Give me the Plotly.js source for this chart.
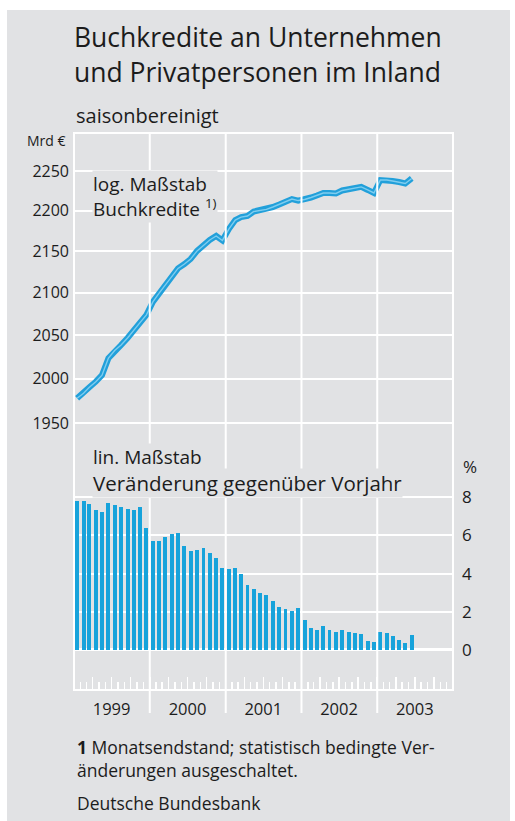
<!DOCTYPE html>
<html>
<head>
<meta charset="utf-8">
<script src="https://cdn.plot.ly/plotly-3.0.1.min.js"></script>
<style>
  html, body { margin: 0; padding: 0; background: #ffffff; }
  #chart { position: absolute; left: 7px; top: 10px; width: 503px; height: 811px; }
</style>
</head>
<body>
<div id="chart"></div>
<script>
// ---- data ----
const months = [
  '1999-01','1999-02','1999-03','1999-04','1999-05','1999-06','1999-07','1999-08','1999-09','1999-10','1999-11','1999-12',
  '2000-01','2000-02','2000-03','2000-04','2000-05','2000-06','2000-07','2000-08','2000-09','2000-10','2000-11','2000-12',
  '2001-01','2001-02','2001-03','2001-04','2001-05','2001-06','2001-07','2001-08','2001-09','2001-10','2001-11','2001-12',
  '2002-01','2002-02','2002-03','2002-04','2002-05','2002-06','2002-07','2002-08','2002-09','2002-10','2002-11','2002-12',
  '2003-01','2003-02','2003-03','2003-04','2003-05','2003-06'
];
// Buchkredite, Mrd €, saisonbereinigt (log. Maßstab)
const kredite = [
  1978.0,1983.6,1990.4,1996.6,2004.0,2023.5,2032.2,2038.5,2046.7,2056.2,2064.9,2073.7,
  2089.0,2099.7,2108.7,2118.7,2129.1,2134.4,2140.5,2150.3,2157.6,2163.7,2168.6,2163.1,
  2177.1,2188.3,2192.0,2193.3,2198.9,2200.2,2201.5,2204.5,2207.7,2211.5,2214.5,2212.6,
  2213.9,2216.4,2219.0,2222.1,2222.1,2221.5,2225.3,2226.6,2228.5,2229.8,2226.0,2222.1,
  2238.5,2238.5,2237.3,2236.0,2234.1,2240.5
];
// Veränderung gegenüber Vorjahr, % (lin. Maßstab)
const veraenderung = [
  7.79,7.79,7.63,7.35,7.23,7.68,7.60,7.47,7.39,7.35,7.47,6.41,
  5.68,5.73,5.94,6.08,6.15,5.45,5.16,5.26,5.33,5.10,4.82,4.29,
  4.23,4.29,3.96,3.42,3.21,3.00,2.88,2.59,2.25,2.13,2.06,2.18,
  1.57,1.17,1.07,1.24,1.07,0.93,1.03,0.96,0.91,0.84,0.47,0.40,
  0.96,0.91,0.73,0.52,0.38,0.80
];
const years = ['1999','2000','2001','2002','2003'];
const logTicks = [1950, 2000, 2050, 2100, 2150, 2200, 2250];
const pctTicks = [0, 2, 4, 6, 8];

// ---- styles ----
const BG = '#e1e2e4';
const BLUE = '#17a3db';
const TXT = '#1c1c1c';
const FONT = 'Open Sans, Noto Sans, sans-serif';

const xMid = months.map(m => m + '-16');
const DAY = 86400000;

const traces = [
  { type: 'scatter', mode: 'lines', x: xMid, y: kredite, xaxis: 'x', yaxis: 'y',
    line: { color: '#22a0da', width: 6 }, hoverinfo: 'skip', showlegend: false },
  { type: 'scatter', mode: 'lines', x: xMid, y: kredite, xaxis: 'x', yaxis: 'y',
    line: { color: '#7fcdef', width: 1.4 }, hoverinfo: 'skip', showlegend: false },
  { type: 'bar', x: xMid, y: veraenderung, xaxis: 'x2', yaxis: 'y2',
    width: 19 * DAY, marker: { color: BLUE, line: { width: 0 } }, hoverinfo: 'skip', showlegend: false }
];

const yearStarts = years.slice(1).map(y => y + '-01-01');
const shapes = yearStarts.map(d => ({
  type: 'line', xref: 'x', yref: 'paper', x0: d, x1: d, y0: -0.0413, y1: 1,
  line: { color: '#ffffff', width: 2 }, layer: 'above'
}));
shapes.push({ type: 'rect', xref: 'paper', yref: 'paper', x0: 0, x1: 1, y0: 0, y1: 1,
  line: { color: '#ffffff', width: 2 }, fillcolor: 'rgba(0,0,0,0)', layer: 'above' });

const layout = {
  width: 503, height: 811,
  margin: { l: 67, r: 57, t: 123, b: 131, pad: 0 },
  paper_bgcolor: BG, plot_bgcolor: BG,
  font: { family: FONT, color: TXT },
  showlegend: false,
  bargap: 0,
  title: {
    text: 'Buchkredite an Unternehmen<br>und Privatpersonen im Inland',
    font: { family: FONT, size: 26.5, color: TXT },
    x: 0, xref: 'paper', xanchor: 'left',
    y: 0.9540, yref: 'container', yanchor: 'top'
  },
  xaxis: {
    type: 'date', range: ['1999-01-01', '2004-01-01'], domain: [0, 1],
    anchor: 'free', position: 0,
    showgrid: false, zeroline: false, showline: false, showticklabels: false,
    ticks: 'inside', tickmode: 'linear', tick0: '1999-01-01', dtick: 'M3',
    ticklen: 13, tickwidth: 1.5, tickcolor: '#ffffff',
    minor: { ticks: 'inside', tickmode: 'linear', tick0: '1999-01-01', dtick: 'M1',
             ticklen: 8, tickwidth: 1.5, tickcolor: '#ffffff', showgrid: false },
    fixedrange: true
  },
  xaxis2: {
    type: 'date', range: ['1999-01-01', '2004-01-01'], domain: [0, 1],
    anchor: 'y2',
    showgrid: false, zeroline: false, showline: false,
    tickmode: 'array', tickvals: years.map(y => y + '-07-01'), ticktext: years,
    ticks: '', tickfont: { family: FONT, size: 16.5, color: TXT },
    ticklabelstandoff: 7,
    fixedrange: true
  },
  yaxis: {
    type: 'log', range: [3.281493, 3.361543], domain: [0.41652, 1],
    anchor: 'x',
    tickmode: 'array', tickvals: logTicks, ticktext: logTicks.map(String),
    showgrid: true, gridcolor: '#ffffff', gridwidth: 2,
    zeroline: false, showline: false, ticks: '',
    tickfont: { family: FONT, size: 16, color: TXT },
    ticklabelstandoff: 4,
    fixedrange: true
  },
  yaxis2: {
    type: 'linear', range: [-2.094, 10.05], domain: [0, 0.41652],
    anchor: 'x2', side: 'right',
    tickmode: 'array', tickvals: pctTicks, ticktext: pctTicks.map(String),
    showgrid: true, gridcolor: '#ffffff', gridwidth: 2,
    zeroline: true, zerolinecolor: '#ffffff', zerolinewidth: 3,
    showline: false, ticks: '',
    tickfont: { family: FONT, size: 17, color: TXT },
    ticklabelstandoff: 8,
    fixedrange: true
  },
  shapes: shapes,
  annotations: [
    { text: 'saisonbereinigt', xref: 'paper', yref: 'paper', x: 0.0, y: 1.0323,
      xanchor: 'left', yanchor: 'middle', showarrow: false, font: { size: 20 } },
    { text: 'Mrd €', xref: 'paper', yref: 'paper', x: -0.0158, y: 0.9874,
      xanchor: 'right', yanchor: 'middle', showarrow: false, font: { size: 14 } },
    { text: 'log. Maßstab<br>Buchkredite <sup>1)</sup>', xref: 'paper', yref: 'paper',
      x: 0.048, y: 0.886, xanchor: 'left', yanchor: 'middle', align: 'left',
      showarrow: false, bgcolor: BG, borderpad: 0, font: { size: 19 } },
    { text: 'lin. Maßstab', xref: 'paper', yref: 'paper',
      x: 0.048, y: 0.4183, xanchor: 'left', yanchor: 'middle', align: 'left',
      showarrow: false, bgcolor: BG, borderpad: 0, font: { size: 19 } },
    { text: 'Veränderung gegenüber Vorjahr', xref: 'paper', yref: 'paper',
      x: 0.048, y: 0.3716, xanchor: 'left', yanchor: 'middle', align: 'left',
      showarrow: false, bgcolor: BG, borderpad: 0, font: { size: 20.5 } },
    { text: '%', xref: 'paper', yref: 'paper', x: 1.0449, y: 0.4004,
      xanchor: 'center', yanchor: 'middle', showarrow: false, font: { size: 17 } },
    { text: '<b>1</b> Monatsendstand; statistisch bedingte Ver-<br>änderungen ausgeschaltet.',
      xref: 'paper', yref: 'paper', x: 0.0026, y: -0.123, xanchor: 'left', yanchor: 'middle',
      align: 'left', showarrow: false, font: { size: 17.5 } },
    { text: 'Deutsche Bundesbank', xref: 'paper', yref: 'paper', x: 0.0026, y: -0.2029,
      xanchor: 'left', yanchor: 'middle', align: 'left', showarrow: false, font: { size: 17.5 } }
  ]
};

Plotly.newPlot('chart', traces, layout, { displayModeBar: false, staticPlot: true });
</script>
</body>
</html>
